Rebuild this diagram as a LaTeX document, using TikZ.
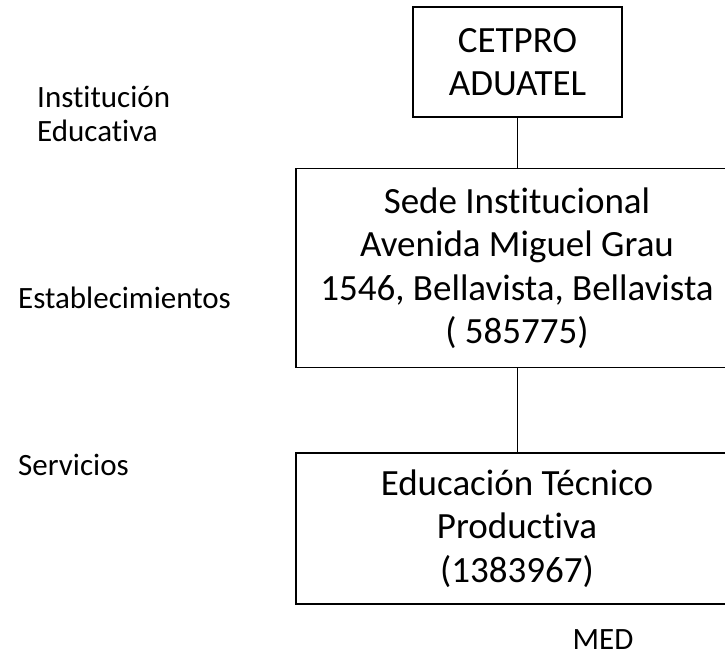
\documentclass[tikz,border=0pt]{standalone}
\usepackage{fontspec}
\setmainfont{Carlito}[Ligatures={NoCommon}]
\usepackage{tikz}

\tikzset{
  boite/.style={draw, line width=1.8pt, align=center, inner sep=0pt,
    font=\fontsize{37}{43.5}\selectfont},
  etiq/.style={anchor=west, align=left, inner sep=0pt,
    font=\fontsize{31}{34}\selectfont}
}

\begin{document}
\begin{tikzpicture}[x=1pt,y=-1pt]
\useasboundingbox (0,0) rectangle (725,658);
\clip (0,0) rectangle (725,658);

\node[boite, minimum width=209pt, minimum height=110pt] (inst) at (517.5,62) {CETPRO\\ADUATEL};
\node[boite, minimum width=442pt, minimum height=199pt] (sede) at (517,268) {Sede Institucional\\Avenida Miguel Grau\\1546, Bellavista, Bellavista\\( 585775)};
\node[boite, minimum width=442pt, minimum height=151pt] (serv) at (517,528.5) {Educaci\'on T\'ecnico\\Productiva\\(1383967)};

\draw [line width=0.8pt] (inst.south) -- (inst.south |- sede.north);
\draw [line width=0.8pt] (sede.south) -- (sede.south |- serv.north);

\node[etiq] (e1) at (37,114) {Instituci\'on\\Educativa};
\node[etiq] (e2) at (18,298) {Establecimientos};
\node[etiq] (e3) at (18,465) {Servicios};
\node[etiq, anchor=center] (med) at (603,640) {MED};
\end{tikzpicture}
\end{document}
